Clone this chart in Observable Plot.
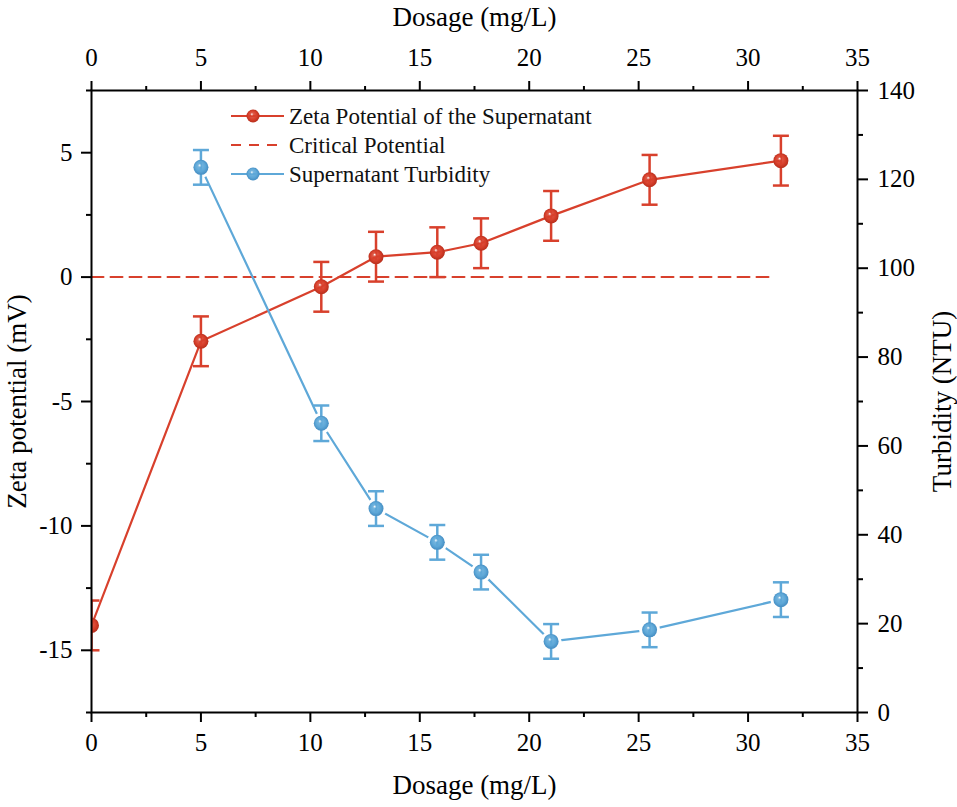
<!DOCTYPE html>
<html>
<head>
<meta charset="utf-8">
<script src="https://cdn.jsdelivr.net/npm/d3@7"></script>
<script src="https://cdn.jsdelivr.net/npm/@observablehq/plot@0.6"></script>
<style>
  html, body { margin: 0; padding: 0; background: #fff; }
  #chart { width: 957px; height: 807px; }
  #chart svg text { font-family: 'Liberation Serif', 'Times New Roman', serif !important; }
</style>
</head>
<body>
<div id="chart"></div>
<script>
// ---- data ----
const xTicks = [0, 5, 10, 15, 20, 25, 30, 35];
const xMinor = [2.5, 7.5, 12.5, 17.5, 22.5, 27.5, 32.5];
const zetaTicks = [-15, -10, -5, 0, 5];
const zetaMinor = [-17.5, -12.5, -7.5, -2.5, 2.5, 7.5];
const turbTicks = [0, 20, 40, 60, 80, 100, 120, 140];
const turbMinor = [10, 30, 50, 70, 90, 110, 130];

const zetaDosage = [0, 5, 10.5, 13, 15.8, 17.8, 21, 25.5, 31.5];
const zetaValues = [-14.0, -2.58, -0.39, 0.82, 1.0, 1.36, 2.46, 3.91, 4.68];
const zetaErr = [1, 1, 1, 1, 1, 1, 1, 1, 1];

const turbDosage = [5, 10.5, 13, 15.8, 17.8, 21, 25.5, 31.5];
const turbValues = [122.7, 65.1, 45.9, 38.3, 31.6, 16.0, 18.6, 25.4];
const turbErr = [3.9, 4.0, 3.9, 3.9, 3.9, 3.9, 3.9, 3.9];

const criticalDosage = [0, 31.1];
const criticalValue = [0, 0];

const legendLabels = ["Zeta Potential of the Supernatant", "Critical Potential", "Supernatant Turbidity"];

// ---- scales mapping (turbidity onto zeta axis) ----
const zDomain = [-17.5, 7.5];
const tDomain = [0, 140];
const toZ = t => zDomain[0] + (t - tDomain[0]) * (zDomain[1] - zDomain[0]) / (tDomain[1] - tDomain[0]);
const toT = z => tDomain[0] + (z - zDomain[0]) * (tDomain[1] - tDomain[0]) / (zDomain[1] - zDomain[0]);

const zeta = zetaDosage.map((x, i) => ({x, y: zetaValues[i], e: zetaErr[i]}));
const turb = turbDosage.map((x, i) => ({x, y: toZ(turbValues[i]), lo: toZ(turbValues[i] - turbErr[i]), hi: toZ(turbValues[i] + turbErr[i])}));
const critical = criticalDosage.map((x, i) => ({x, y: criticalValue[i]}));

const RED = "#d8402c";
const BLUE = "#5ea8d8";
const FONT = "'Liberation Serif', 'Times New Roman', serif";
const TICKFS = 25;
const TITLEFS = 27;

const capSymbol = { draw(ctx) { ctx.moveTo(-8, 0); ctx.lineTo(8, 0); } };

const W = 957, H = 807;
const chart = Plot.plot({
  width: W,
  height: H,
  marginLeft: 91,
  marginRight: 100,
  marginTop: 90,
  marginBottom: 95,
  style: "font-family: 'Liberation Serif', 'Times New Roman', serif; font-size: 24px; color: #000; background: #fff;",
  x: { domain: [0, 35] },
  y: { domain: zDomain },
  marks: [
    // axes: bottom
    Plot.axisX({ anchor: "bottom", ticks: xTicks, tickSize: 10, tickPadding: 11, strokeWidth: 2, tickFormat: d => d, label: null, fontSize: TICKFS, fontFamily: FONT, fill: "#000" }),
    Plot.axisX({ anchor: "bottom", ticks: xMinor, tickSize: 5, strokeWidth: 2, tickFormat: () => "", label: null }),
    // top
    Plot.axisX({ anchor: "top", ticks: xTicks, tickSize: 10, tickPadding: 15, strokeWidth: 2, tickFormat: d => d, label: null, fontSize: TICKFS, fontFamily: FONT, fill: "#000" }),
    Plot.axisX({ anchor: "top", ticks: xMinor, tickSize: 5, strokeWidth: 2, tickFormat: () => "", label: null }),
    // left
    Plot.axisY({ anchor: "left", ticks: zetaTicks, tickSize: 10, tickPadding: 9, strokeWidth: 2, tickFormat: d => d, label: null, fontSize: TICKFS, fontFamily: FONT, fill: "#000" }),
    Plot.axisY({ anchor: "left", ticks: zetaMinor, tickSize: 5, strokeWidth: 2, tickFormat: () => "", label: null }),
    // right (turbidity)
    Plot.axisY({ anchor: "right", ticks: turbTicks.map(toZ), tickSize: 10, tickPadding: 10, strokeWidth: 2, tickFormat: z => Math.round(toT(z)), label: null, fontSize: TICKFS, fontFamily: FONT, fill: "#000" }),
    Plot.axisY({ anchor: "right", ticks: turbMinor.map(toZ), tickSize: 5, strokeWidth: 2, tickFormat: () => "", label: null }),

    // critical potential
    Plot.line(critical, { x: "x", y: "y", stroke: RED, strokeWidth: 2, strokeDasharray: "12,7", clip: true }),

    // zeta series
    Plot.line(zeta, { x: "x", y: "y", stroke: RED, strokeWidth: 2.2, clip: true }),
    Plot.ruleX(zeta, { x: "x", y1: d => d.y - d.e, y2: d => d.y + d.e, stroke: RED, strokeWidth: 2.5, clip: true }),
    Plot.dot(zeta, { x: "x", y: d => d.y - d.e, symbol: capSymbol, r: 8, stroke: RED, strokeWidth: 2.5, fill: "none", clip: true }),
    Plot.dot(zeta, { x: "x", y: d => d.y + d.e, symbol: capSymbol, r: 8, stroke: RED, strokeWidth: 2.5, fill: "none", clip: true }),
    Plot.dot(zeta, { x: "x", y: "y", r: 7.5, fill: "url(#gradRed)", stroke: "none", clip: true }),

    // turbidity series
    Plot.line(turb, { x: "x", y: "y", stroke: BLUE, strokeWidth: 2.2, clip: true }),
    Plot.dot(turb, { x: "x", y: "y", r: 10.5, fill: "white", stroke: "none", clip: true }),
    Plot.ruleX(turb, { x: "x", y1: "lo", y2: "hi", stroke: BLUE, strokeWidth: 2.5, clip: true }),
    Plot.dot(turb, { x: "x", y: "lo", symbol: capSymbol, r: 8, stroke: BLUE, strokeWidth: 2.5, fill: "none", clip: true }),
    Plot.dot(turb, { x: "x", y: "hi", symbol: capSymbol, r: 8, stroke: BLUE, strokeWidth: 2.5, fill: "none", clip: true }),
    Plot.dot(turb, { x: "x", y: "y", r: 7.5, fill: "url(#gradBlue)", stroke: "none", clip: true }),

    // frame
    Plot.frame({ stroke: "#000", strokeWidth: 2 }),

    // axis titles
    Plot.text(["Dosage (mg/L)"], { frameAnchor: "bottom", dy: 73, textAnchor: "middle", lineAnchor: "middle", fontSize: TITLEFS, fontFamily: FONT, fill: "#000" }),
    Plot.text(["Dosage (mg/L)"], { frameAnchor: "top", dy: -73, textAnchor: "middle", lineAnchor: "middle", fontSize: TITLEFS, fontFamily: FONT, fill: "#000" }),
    Plot.text(["Zeta potential (mV)"], { frameAnchor: "left", dx: -74, rotate: -90, textAnchor: "middle", lineAnchor: "middle", fontSize: TITLEFS, fontFamily: FONT, fill: "#000" }),
    Plot.text(["Turbidity (NTU)"], { frameAnchor: "right", dx: 85, rotate: -90, textAnchor: "middle", lineAnchor: "middle", fontSize: TITLEFS, fontFamily: FONT, fill: "#000" })
  ]
});

// force serif font on every text
const svg = d3.select(chart);
svg.selectAll("text").attr("font-family", FONT).style("font-family", FONT);
svg.selectAll("g").filter(function() { return this.getAttribute("font-family"); }).attr("font-family", FONT);

// gradients for sphere-like markers
const defs = svg.insert("defs", ":first-child");
function grad(id, base, dark) {
  const g = defs.append("radialGradient").attr("id", id)
    .attr("cx", "0.5").attr("cy", "0.5").attr("r", "0.55").attr("fx", "0.4").attr("fy", "0.35");
  g.append("stop").attr("offset", "0").attr("stop-color", "#ffffff");
  g.append("stop").attr("offset", "0.22").attr("stop-color", base).attr("stop-opacity", 0.85);
  g.append("stop").attr("offset", "0.6").attr("stop-color", base);
  g.append("stop").attr("offset", "1").attr("stop-color", dark);
}
grad("gradRed", RED, "#b02a18");
grad("gradBlue", BLUE, "#3f87bd");

// legend (layout only)
const lg = svg.append("g").attr("font-family", FONT).attr("font-size", 23).attr("text-anchor", "start");
const rows = [
  { y: 116, color: RED, dash: null, marker: "url(#gradRed)" },
  { y: 145, color: RED, dash: "10,8", marker: null },
  { y: 174, color: BLUE, dash: null, marker: "url(#gradBlue)" }
];
rows.forEach((r, i) => {
  lg.append("line").attr("x1", 231).attr("x2", 284).attr("y1", r.y).attr("y2", r.y)
    .attr("stroke", r.color).attr("stroke-width", 2.2).attr("stroke-dasharray", r.dash);
  if (r.marker) lg.append("circle").attr("cx", 253).attr("cy", r.y).attr("r", 6.5).attr("fill", r.marker);
  lg.append("text").attr("x", 289).attr("y", r.y).attr("dy", "0.35em").attr("text-anchor", "start")
    .style("font-family", FONT).attr("fill", "#111").text(legendLabels[i]);
});

document.getElementById("chart").appendChild(chart);
</script>
</body>
</html>
